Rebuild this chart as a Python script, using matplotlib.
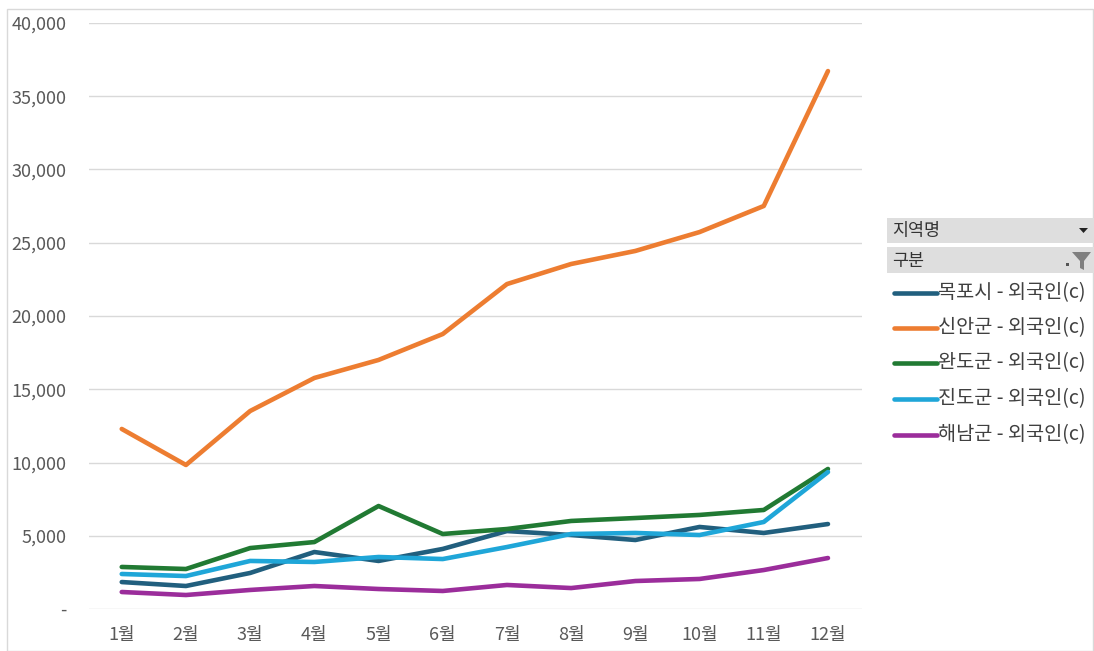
import matplotlib
matplotlib.use("Agg")
import matplotlib.pyplot as plt
from matplotlib.patches import Rectangle, Polygon
from matplotlib.lines import Line2D
from matplotlib.ticker import FuncFormatter

plt.rcParams['font.family'] = ['Noto Sans CJK KR', 'DejaVu Sans']

months = ["1월", "2월", "3월", "4월", "5월", "6월", "7월", "8월", "9월", "10월", "11월", "12월"]
series_names = ["목포시 - 외국인(c)", "신안군 - 외국인(c)", "완도군 - 외국인(c)", "진도군 - 외국인(c)", "해남군 - 외국인(c)"]
mokpo = [1840, 1570, 2460, 3890, 3280, 4100, 5320, 5050, 4710, 5600, 5190, 5800]
sinan = [12290, 9830, 13515, 15770, 17000, 18770, 22180, 23550, 24440, 25730, 27510, 36720]
wando = [2870, 2730, 4160, 4570, 7030, 5120, 5460, 6010, 6210, 6420, 6760, 9560]
jindo = [2390, 2250, 3280, 3210, 3550, 3410, 4230, 5120, 5190, 5050, 5940, 9350]
haenam = [1160, 955, 1300, 1570, 1365, 1230, 1640, 1430, 1910, 2050, 2660, 3480]
colors = ["#215f7e", "#ed7d31", "#217a33", "#1fa6d8", "#9b2d9b"]
yticks = [0, 5000, 10000, 15000, 20000, 25000, 30000, 35000, 40000]

W, H = 1094, 651
fig = plt.figure(figsize=(W / 100, H / 100), dpi=100)
ax = fig.add_axes([89 / W, 1 - 609 / H, (862 - 89) / W, (609 - 23) / H])

x = list(range(1, 13))
all_series = [mokpo, sinan, wando, jindo, haenam]
for vals, c in zip(all_series, colors):
    ax.plot(x, vals, color=c, lw=3.3, solid_capstyle='round', solid_joinstyle='round')

ax.set_xlim(0.49, 12.53)
ax.set_ylim(0, 40000)
ax.set_yticks(yticks)
ax.yaxis.set_major_formatter(FuncFormatter(lambda v, p: "-" if v == 0 else f"{int(v):,}"))
ax.set_xticks(x)
ax.set_xticklabels(months)
ax.grid(axis='y', color='#d9d9d9', lw=1)
ax.set_axisbelow(True)
for s in ax.spines.values():
    s.set_visible(False)
ax.tick_params(axis='both', length=0, colors='#595959', labelsize=13)
ax.tick_params(axis='y', pad=16)
ax.tick_params(axis='x', pad=12)

# outer frame
fig.patches.append(Rectangle((7 / W, 0), (W - 8) / W, 1 - 9 / H, transform=fig.transFigure,
                             fill=False, edgecolor='#d9d9d9', lw=1))

def fx(px):
    return px / W

def fy(py):
    return 1 - py / H

fig.patches.append(Rectangle((fx(887), fy(243)), fx(1094) - fx(887), fy(218) - fy(243),
                             transform=fig.transFigure, facecolor='#dedede', edgecolor='none'))
fig.patches.append(Rectangle((fx(887), fy(273)), fx(1094) - fx(887), fy(247) - fy(273),
                             transform=fig.transFigure, facecolor='#dedede', edgecolor='none'))
fig.text(fx(892), fy(231), "지역명", fontsize=12.5, color='#333333', va='center', ha='left')
fig.text(fx(892), fy(261), "구분", fontsize=12.5, color='#333333', va='center', ha='left')
fig.patches.append(Polygon([(fx(1079), fy(228)), (fx(1088), fy(228)), (fx(1083.5), fy(233))],
                           closed=True, transform=fig.transFigure, facecolor='#222222', edgecolor='none'))
fig.patches.append(Polygon([(fx(1072), fy(252)), (fx(1091), fy(252)), (fx(1084), fy(261)),
                            (fx(1084), fy(270)), (fx(1080), fy(268)), (fx(1080), fy(261))],
                           closed=True, transform=fig.transFigure, facecolor='#7f7f7f', edgecolor='none'))
fig.patches.append(Rectangle((fx(1066), fy(266)), 3 / W, 3 / H, transform=fig.transFigure,
                             facecolor='#555555', edgecolor='none'))

legend_y = [293, 328, 363, 399, 435]
for name, c, ly in zip(series_names, colors, legend_y):
    fig.lines.append(Line2D([fx(894), fx(937)], [fy(ly), fy(ly)], transform=fig.transFigure,
                            color=c, lw=3.3, solid_capstyle='round'))
    fig.text(fx(938), fy(ly), name, fontsize=14.2, color='#404040', va='center', ha='left')

fig.savefig("out.png", dpi=100)
